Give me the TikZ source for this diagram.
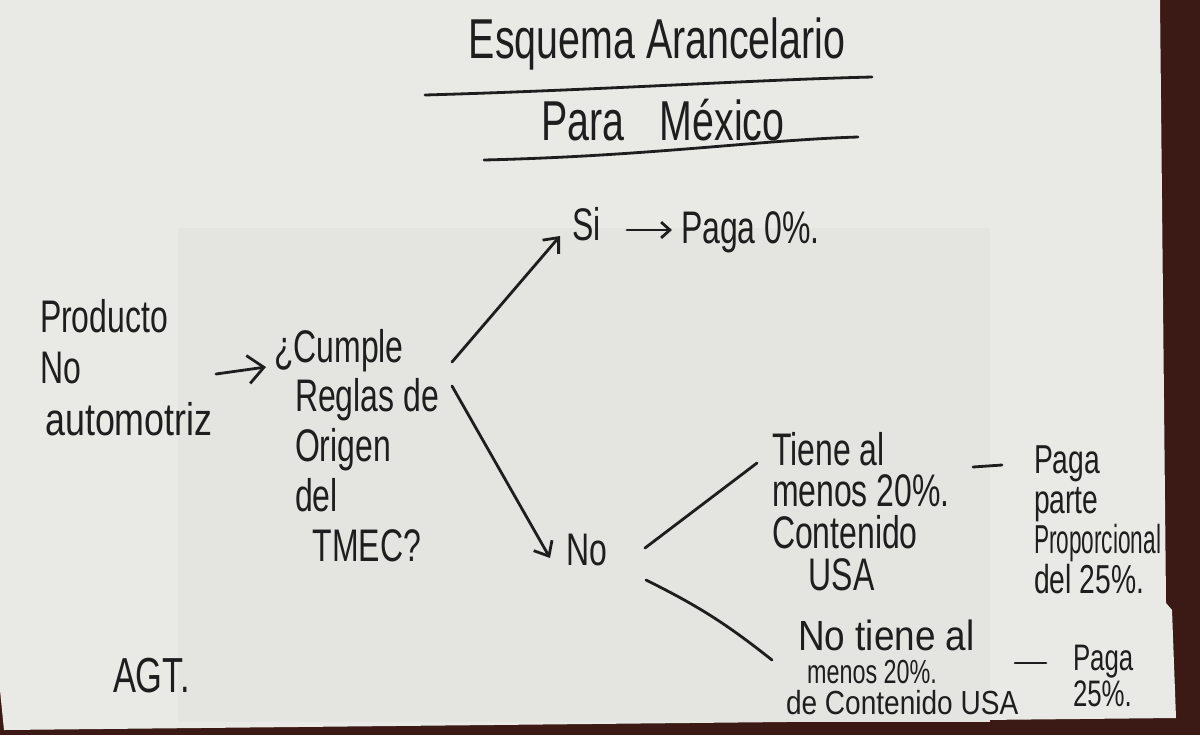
\documentclass[tikz,border=0pt]{standalone}
\usepackage{fontspec}
\setmainfont{Liberation Sans}[FakeStretch=0.7]
\usepackage{graphicx}
\usetikzlibrary{arrows.meta,calc}
\definecolor{paper}{HTML}{E9E9E6}
\definecolor{papershade}{HTML}{E4E4E1}
\definecolor{wood}{HTML}{3B1915}
\definecolor{ink}{HTML}{1E1E1E}
\newcommand{\hand}[2]{\fontsize{#1}{#2}\selectfont\lineskiplimit=-100pt\relax}
\tikzset{
  txt/.style={inner sep=0pt, outer sep=0pt, text=ink, align=left},
  ln/.style={draw=ink, line width=1.6pt, line cap=round, line join=round},
  arr/.style={ln, -{Straight Barb[length=7pt,width=12pt]}},
  bigarr/.style={ln, -{Straight Barb[length=9pt,width=16pt]}},
  smallarr/.style={ln, -{Straight Barb[length=5pt,width=9pt]}},
}
\begin{document}
\begin{tikzpicture}[x=0.02cm, y=-0.02cm]
\useasboundingbox (0,0) rectangle (1200,735);
% background and paper
\fill[wood] (0,0) rectangle (1200,735);
\fill[paper] (0,0) -- (1160,0) -- (1163,300) -- (1166,603) -- (1172,610) -- (1176,718) -- (4,730) -- (0,690) -- cycle;
\fill[papershade] (178,228) rectangle (990,722);

% title
\node[txt, anchor=base, font=\hand{32}{38}] (esq) at (657,58) {Esquema Arancelario};
\node[txt, anchor=base, font=\hand{32}{38}] (para) at (663,140) {Para\hspace{20pt}México};
\draw[ln] (425,95) .. controls (600,90) and (750,80) .. (872,77);
\draw[ln] (484,160) .. controls (650,156) and (760,140) .. (858,137);

% text blocks
\node[txt, anchor=north west, font=\hand{26}{29.5}] (prod) at (40,299)
  {Producto\\No\\\hspace*{3pt}\scalebox{1.12}[1]{automotriz}};
\node[txt, anchor=north west, font=\hand{26}{28.3}] (cumple) at (274,329)
  {¿Cumple\\\hspace*{12pt}Reglas de\\\hspace*{12pt}Origen\\\hspace*{12pt}del\\\hspace*{22pt}TMEC?};
\node[txt, anchor=base west, font=\hand{26}{30}] (si) at (572,240) {Si};
\node[txt, anchor=base west, font=\hand{26}{30}] (paga0) at (681,243) {Paga 0\%.};
\node[txt, anchor=base west, font=\hand{26}{30}] (no) at (566,565) {No};
\node[txt, anchor=north west, font=\hand{26}{23.8}] (tiene) at (772,432)
  {Tiene al\\menos 20\%.\\Contenido\\\hspace*{21pt}USA};
\node[txt, anchor=north west, font=\hand{23}{22.7}] (parte) at (1034,446)
  {Paga\\parte\\\scalebox{0.8}[1]{Proporcional}\\del 25\%.};
\node[txt, anchor=north west, font=\hand{19}{18.7}] (notiene) at (786,620)
  {{\fontsize{24}{18.7}\selectfont\hspace*{7pt}\scalebox{1.25}[1]{No tiene al}}\\\hspace*{12pt}menos 20\%.\\[-1.1pt]\scalebox{1.2}[1]{de Contenido USA}};
\node[txt, anchor=north west, font=\hand{21}{20.4}] (paga25) at (1073,645)
  {Paga\\25\%.};
\node[txt, anchor=base west, font=\hand{28}{30}] (agt) at (113,692) {AGT.};

% connectors
\draw[bigarr] ($(prod.north west)+(176,75)$) -- ($(cumple.north west)+(-8,38)$);
\draw[arr] ($(cumple.north west)+(178,33)$) -- ($(si.base west)+(-12,-4)$);
\draw[arr] ($(cumple.north west)+(178,57)$) -- ($(no.base west)+(-16,-7)$);
\draw[smallarr] ($(si.base west)+(55,-10)$) -- ($(paga0.base west)+(-9,-13)$);
\draw[ln] ($(no.base west)+(79,-17)$) -- ($(tiene.north west)+(-15,31)$);
\draw[ln] ($(no.base west)+(80,15)$) to[bend left=6] ($(notiene.north west)+(-14,40)$);
\draw[ln] ($(tiene.north west)+(201,35)$) -- ($(parte.north west)+(-32,19)$);
\draw[ln] ($(notiene.north west)+(229,43)$) -- ($(paga25.north west)+(-27,18)$);
\end{tikzpicture}
\end{document}
